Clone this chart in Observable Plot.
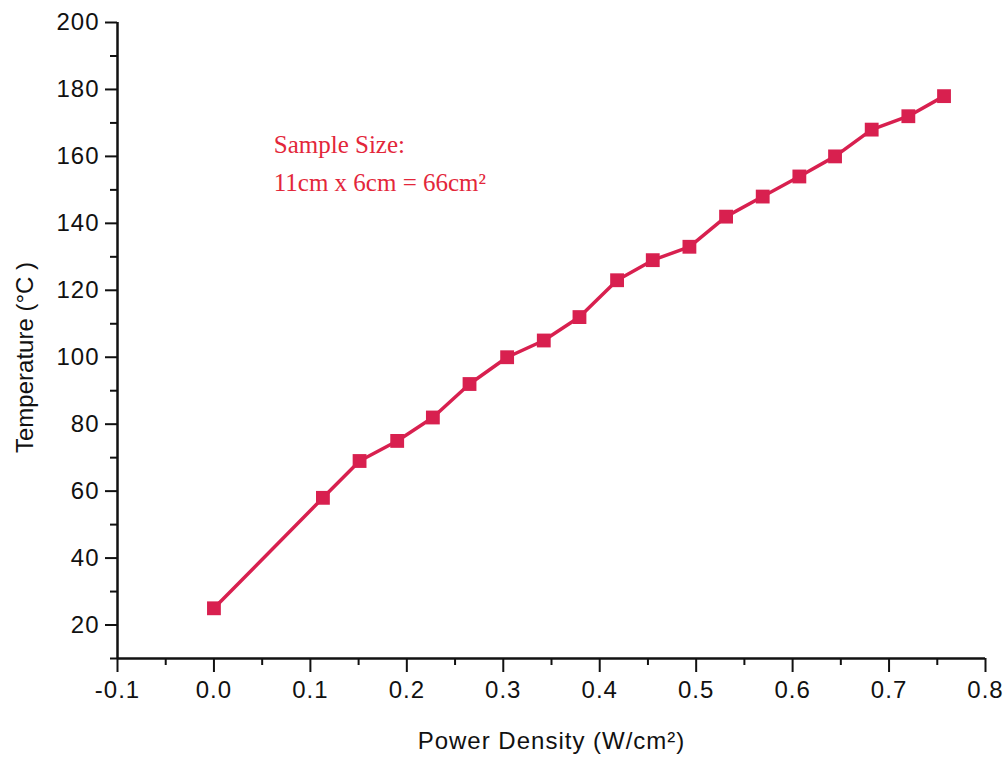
<!DOCTYPE html>
<html>
<head>
<meta charset="utf-8">
<script src="https://cdn.jsdelivr.net/npm/d3@7"></script>
<script src="https://cdn.jsdelivr.net/npm/@observablehq/plot@0.6"></script>
<style>
  html, body { margin: 0; padding: 0; background: #fff; }
</style>
</head>
<body>
<div id="chart"></div>
<script>
const powerDensity = [0, 0.113, 0.151, 0.190, 0.227, 0.265, 0.304, 0.342, 0.379, 0.418, 0.455, 0.493, 0.531, 0.569, 0.607, 0.644, 0.682, 0.720, 0.757];
const temperature = [25, 58, 69, 75, 82, 92, 100, 105, 112, 123, 129, 133, 142, 148, 154, 160, 168, 172, 178];
const xMajorTicks = [-0.1, 0, 0.1, 0.2, 0.3, 0.4, 0.5, 0.6, 0.7, 0.8];
const xMinorTicks = [-0.05, 0.05, 0.15, 0.25, 0.35, 0.45, 0.55, 0.65, 0.75];
const yMajorTicks = [20, 40, 60, 80, 100, 120, 140, 160, 180, 200];
const yMinorTicks = [10, 30, 50, 70, 90, 110, 130, 150, 170, 190];
const xLabel = "Power Density (W/cm²)";
const yLabel = "Temperature (°C )";
const noteLines = ["Sample Size:", "11cm x 6cm = 66cm²"];
const notePos = [{x: 0.062, y: 163.4}, {x: 0.062, y: 152.0}];

const data = powerDensity.map((x, i) => ({x, y: temperature[i]}));
const notes = noteLines.map((t, i) => ({text: t, ...notePos[i]}));

const lineColor = "#d8204f";
const font = "Arial, 'Liberation Sans', Helvetica, sans-serif";
const fmtX = d => d.toFixed(1).replace("\u2212", "-");

const chart = Plot.plot({
  width: 1008,
  height: 758,
  marginLeft: 117,
  marginRight: 23,
  marginTop: 22,
  marginBottom: 100,
  style: {fontFamily: font, fontSize: "24px", color: "#111", background: "#fff"},
  x: {domain: [-0.1, 0.8]},
  y: {domain: [10, 200]},
  marks: [
    Plot.axisX({ticks: xMajorTicks, tickSize: 14, tickPadding: 8, tickFormat: fmtX, strokeWidth: 2, label: null, fontSize: 24}),
    Plot.axisX({ticks: xMinorTicks, tickSize: 7, tickFormat: () => "", strokeWidth: 2, label: null}),
    Plot.axisY({ticks: yMajorTicks, tickSize: 12, tickPadding: 6, strokeWidth: 2, label: null, fontSize: 24}),
    Plot.axisY({ticks: yMinorTicks, tickSize: 7, tickFormat: () => "", strokeWidth: 2, label: null}),
    Plot.ruleX([-0.1], {stroke: "#111", strokeWidth: 2.5}),
    Plot.ruleY([10], {stroke: "#111", strokeWidth: 2.5}),
    Plot.text([xLabel], {text: d => d, frameAnchor: "bottom", textAnchor: "middle", dy: 90, fontSize: 24}),
    Plot.text([yLabel], {text: d => d, frameAnchor: "left", textAnchor: "middle", dx: -92, dy: 17, rotate: -90, fontSize: 24}),
    Plot.line(data, {x: "x", y: "y", stroke: lineColor, strokeWidth: 3.5}),
    Plot.dot(data, {x: "x", y: "y", symbol: "square", r: 7.8, fill: lineColor, stroke: null}),
    Plot.text(notes, {x: "x", y: "y", text: "text", textAnchor: "start", fill: "#e3263a", fontSize: 25, fontFamily: "'Liberation Serif', 'Times New Roman', serif"})
  ]
});
chart.querySelectorAll("text").forEach(t => {
  const tr = t.getAttribute("transform") || "";
  const serif = (t.closest("g") && (t.closest("g").getAttribute("font-family") || "").includes("Serif"));
  t.style.letterSpacing = (tr.includes("rotate") || serif) ? "0px" : "1px";
});
document.getElementById("chart").appendChild(chart);
</script>
</body>
</html>
